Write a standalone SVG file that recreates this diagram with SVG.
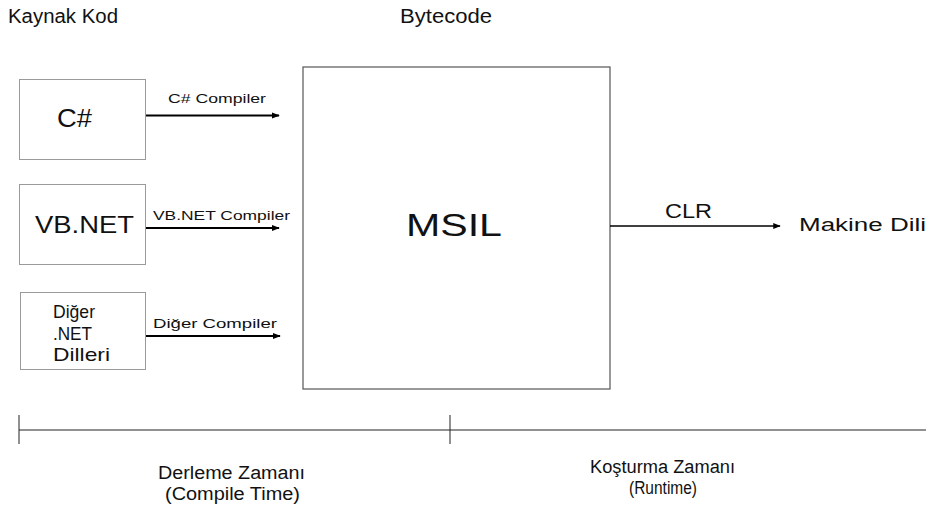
<svg xmlns="http://www.w3.org/2000/svg" width="926" height="509" viewBox="0 0 926 509">
<defs>
<marker id="ah" viewBox="0 0 10 10" refX="9" refY="5" markerWidth="4" markerHeight="4" orient="auto" markerUnits="strokeWidth"><path d="M0,1 L10,5 L0,9 z" fill="#000"/></marker>
<marker id="ah2" viewBox="0 0 10 10" refX="9" refY="5" markerWidth="5" markerHeight="5" orient="auto" markerUnits="strokeWidth"><path d="M0,1 L10,5 L0,9 z" fill="#000"/></marker>
<style>
text{font-family:"Liberation Sans","Open Sans",Arial,sans-serif;fill:#111}
.src{fill:#fff;stroke:#9a9a9a;stroke-width:1}
.msil{fill:#fff;stroke:#555;stroke-width:1.2}
.arr{stroke:#000;stroke-width:2;fill:none;marker-end:url(#ah)}
.clr{stroke:#000;stroke-width:1.5;fill:none;marker-end:url(#ah2)}
.tl{stroke:#222;stroke-width:1;fill:none}
.lbl{font-size:12px}
.hd{font-size:20px}
.bt{font-size:18px}
.dg{font-size:18.5px}
</style>
</defs>
<text class="hd" x="8" y="23" textLength="110" lengthAdjust="spacingAndGlyphs">Kaynak Kod</text>
<text class="hd" x="400" y="23" textLength="92" lengthAdjust="spacingAndGlyphs">Bytecode</text>
<g id="csharp"><rect class="src" x="19.5" y="79.5" width="126" height="80"/><text x="57" y="127" font-size="25" textLength="35" lengthAdjust="spacingAndGlyphs">C#</text></g>
<g id="vbnet"><rect class="src" x="19.5" y="184.5" width="126" height="80"/><text x="35" y="233" font-size="23" textLength="99" lengthAdjust="spacingAndGlyphs">VB.NET</text></g>
<g id="diger"><rect class="src" x="20.5" y="292.5" width="125" height="77"/><text class="dg" x="53" y="318" textLength="42" lengthAdjust="spacingAndGlyphs">Diğer</text><text class="dg" x="53" y="339.5" textLength="39" lengthAdjust="spacingAndGlyphs">.NET</text><text class="dg" x="53" y="361" textLength="57" lengthAdjust="spacingAndGlyphs">Dilleri</text></g>
<g id="msil"><rect class="msil" x="303" y="67" width="307" height="322"/><text x="406" y="236" font-size="32" textLength="96" lengthAdjust="spacingAndGlyphs">MSIL</text></g>
<g id="makine"><text x="799" y="231" font-size="17.5" textLength="127" lengthAdjust="spacingAndGlyphs">Makine Dili</text></g>
<g id="connectors">
<line class="arr" x1="146" y1="115.5" x2="279" y2="115.5"/>
<text class="lbl" x="168" y="103" textLength="98" lengthAdjust="spacingAndGlyphs">C# Compiler</text>
<line class="arr" x1="146" y1="228" x2="279" y2="228"/>
<text class="lbl" x="153" y="220" textLength="137" lengthAdjust="spacingAndGlyphs">VB.NET Compiler</text>
<line class="arr" x1="146" y1="336" x2="280" y2="336"/>
<text class="lbl" x="153" y="328" textLength="124" lengthAdjust="spacingAndGlyphs">Diğer Compiler</text>
<line class="clr" x1="610" y1="226" x2="780" y2="226"/>
<text x="665" y="218" font-size="20" textLength="47" lengthAdjust="spacingAndGlyphs">CLR</text>
</g>
<g id="timeline">
<line class="tl" x1="19" y1="430" x2="926" y2="430"/>
<line class="tl" x1="19" y1="415" x2="19" y2="444"/>
<line class="tl" x1="450" y1="415" x2="450" y2="444"/>
<text class="bt" x="158" y="479" textLength="147" lengthAdjust="spacingAndGlyphs">Derleme Zamanı</text>
<text class="bt" x="165" y="500" textLength="135" lengthAdjust="spacingAndGlyphs">(Compile Time)</text>
<text class="bt" x="590" y="473" textLength="145" lengthAdjust="spacingAndGlyphs">Koşturma Zamanı</text>
<text class="bt" x="629" y="494" textLength="68" lengthAdjust="spacingAndGlyphs">(Runtime)</text>
</g>
</svg>
